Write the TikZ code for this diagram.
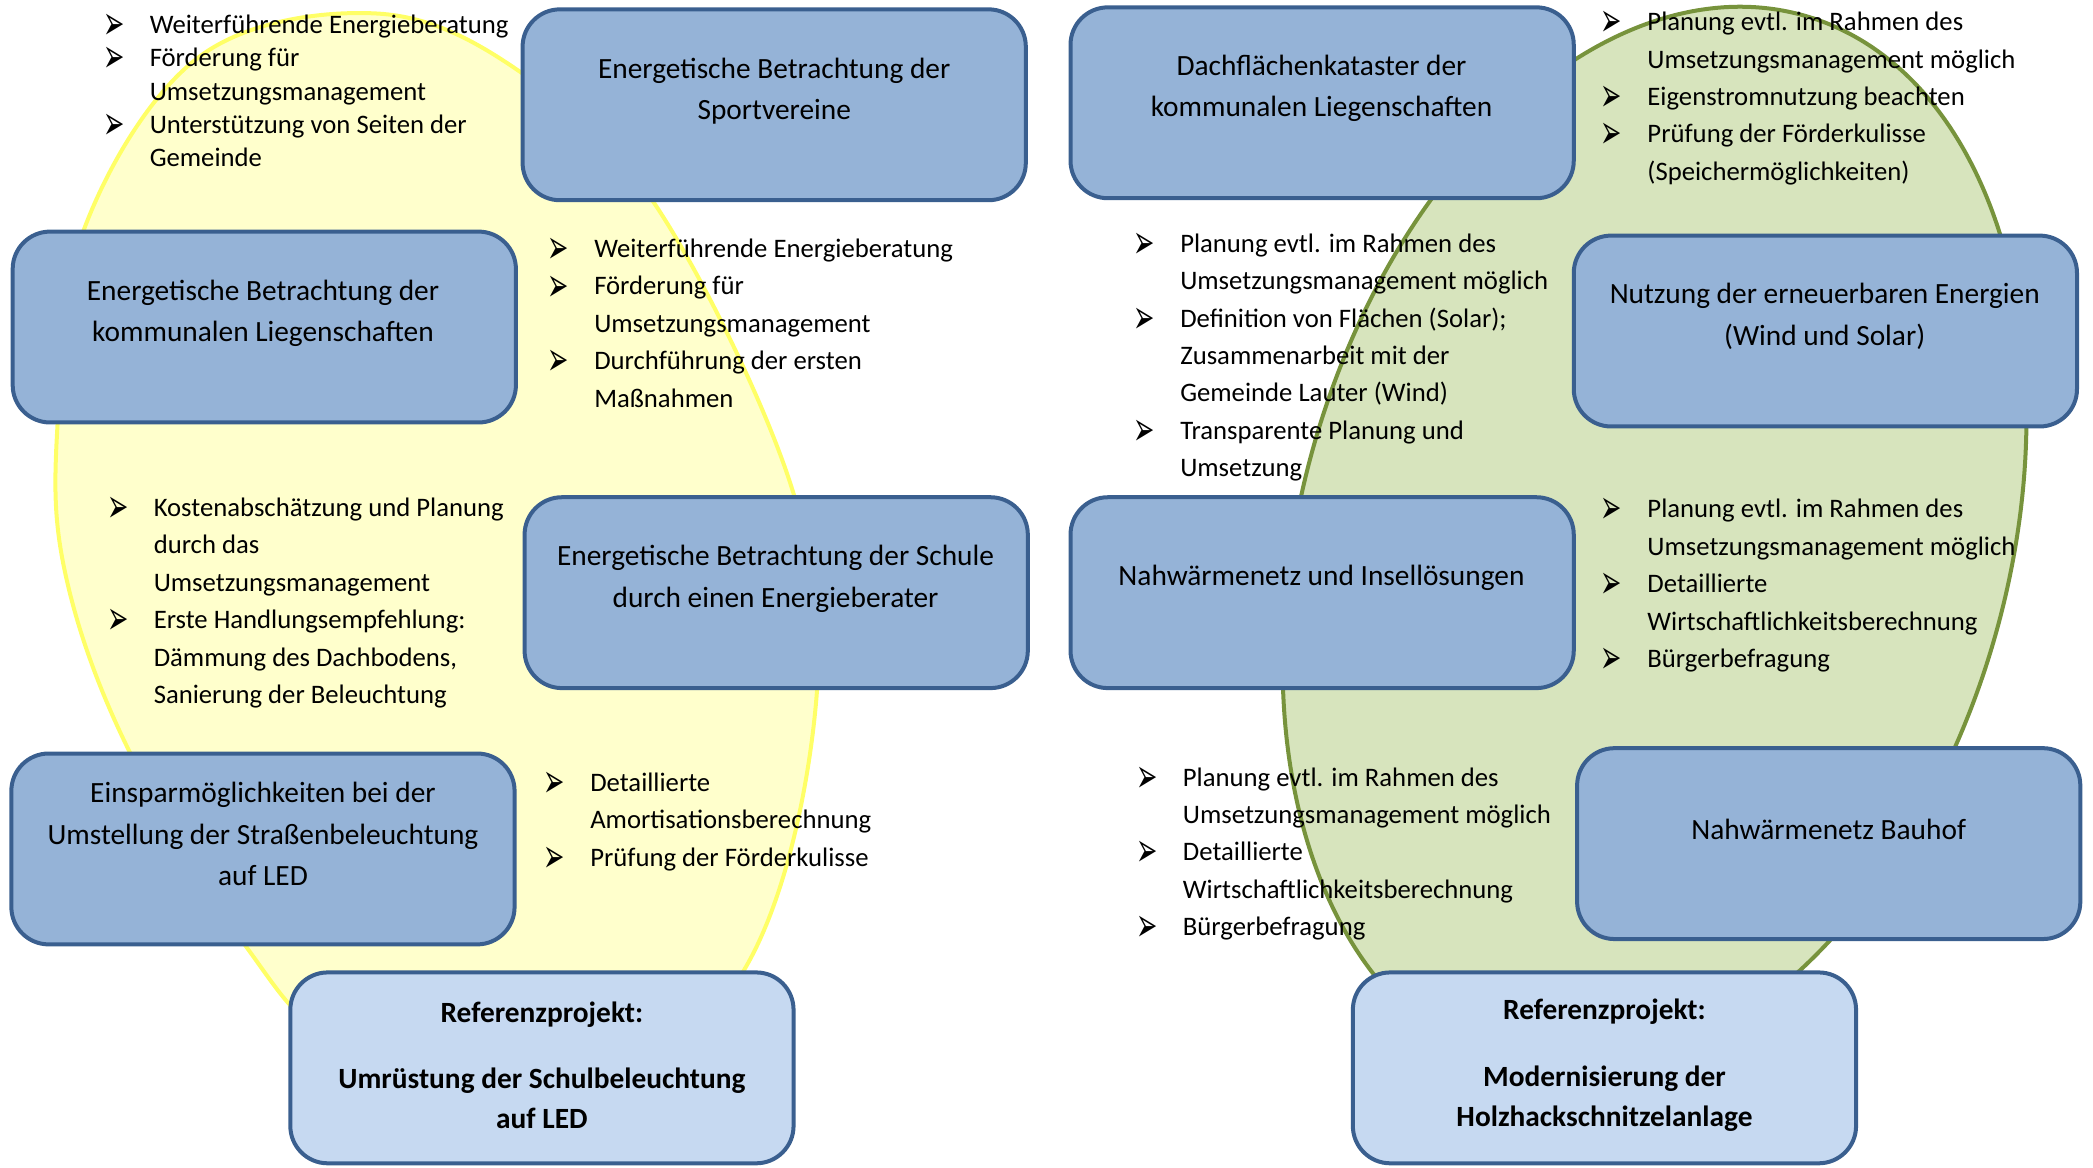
\documentclass[tikz,border=0pt]{standalone}
\usepackage{fontspec}
\usepackage{graphicx}
\setmainfont{Carlito}
\newfontfamily\symfont{DejaVu Sans}
\definecolor{boxborder}{HTML}{3A5F8F}
\definecolor{boxfill}{HTML}{95B3D7}
\definecolor{reffill}{HTML}{C6D9F1}
\definecolor{yelfill}{HTML}{FFFFCC}
\definecolor{yelline}{HTML}{FFFF66}
\definecolor{grnfill}{HTML}{D7E4BD}
\definecolor{grnline}{HTML}{77933C}
\newcommand{\bu}{\makebox[35pt][l]{\raisebox{-4.5pt}{\resizebox{16pt}{19pt}{\symfont ➢}}}}
\newcommand{\ind}{\hspace*{35pt}}
\begin{document}
\begin{tikzpicture}[x=1pt,y=-1pt,
  box/.style={draw=boxborder, line width=3pt, fill=boxfill, rounded corners=28pt,
    minimum width=377pt, minimum height=143pt, inner sep=0pt},
  refbox/.style={box, fill=reffill},
  btxt/.style={font=\fontsize{22}{31}\selectfont, align=center, inner sep=0pt},
  lst/.style={font=\fontsize{20}{28}\selectfont, inner sep=0pt, anchor=base west},
  yel/.style={draw=yelline, fill=yelfill, line width=3pt},
  grn/.style={draw=grnline, fill=grnfill, line width=3pt}]
\useasboundingbox (0,0) rectangle (1568,875);
% ellipses
\draw[yel] plot[smooth cycle, tension=0.6] coordinates {(280,10) (387,52) (492,155) (593,365) (611,530) (559,724) (430,845) (260,785) (185,710) (95,559) (49,430) (43,320) (64,169) (150,42)};
\draw[grn, rotate around={-16:(1239.5,405)}] (1239.5,405) ellipse [x radius=265, y radius=409];
% lists
\node[lst, font=\fontsize{20}{25}\selectfont] (l1) at (77,25) {\parbox[t]{330pt}{%
\bu Weiterführende Energieberatung\\
\bu Förderung für\\
\ind Umsetzungsmanagement\\
\bu Unterstützung von Seiten der\\
\ind Gemeinde}};
\node[lst] (l2) at (410,193) {\parbox[t]{340pt}{%
\bu Weiterführende Energieberatung\\
\bu Förderung für\\
\ind Umsetzungsmanagement\\
\bu Durchführung der ersten\\
\ind Maßnahmen}};
\node[lst] (l3) at (80,387) {\parbox[t]{330pt}{%
\bu Kostenabschätzung und Planung\\
\ind durch das\\
\ind Umsetzungsmanagement\\
\bu Erste Handlungsempfehlung:\\
\ind Dämmung des Dachbodens,\\
\ind Sanierung der Beleuchtung}};
\node[lst] (l4) at (407,593) {\parbox[t]{340pt}{%
\bu Detaillierte\\
\ind Amortisationsberechnung\\
\bu Prüfung der Förderkulisse}};
\node[lst] (r1) at (1199,23) {\parbox[t]{360pt}{%
\bu Planung evtl. im Rahmen des\\
\ind Umsetzungsmanagement möglich\\
\bu Eigenstromnutzung beachten\\
\bu Prüfung der Förderkulisse\\
\ind (Speichermöglichkeiten)}};
\node[lst] (r2) at (849,189) {\parbox[t]{360pt}{%
\bu Planung evtl. im Rahmen des\\
\ind Umsetzungsmanagement möglich\\
\bu Definition von Flächen (Solar);\\
\ind Zusammenarbeit mit der\\
\ind Gemeinde Lauter (Wind)\\
\bu Transparente Planung und\\
\ind Umsetzung}};
\node[lst] (r3) at (1199,388) {\parbox[t]{360pt}{%
\bu Planung evtl. im Rahmen des\\
\ind Umsetzungsmanagement möglich\\
\bu Detaillierte\\
\ind Wirtschaftlichkeitsberechnung\\
\bu Bürgerbefragung}};
\node[lst] (r4) at (851,589) {\parbox[t]{360pt}{%
\bu Planung evtl. im Rahmen des\\
\ind Umsetzungsmanagement möglich\\
\bu Detaillierte\\
\ind Wirtschaftlichkeitsberechnung\\
\bu Bürgerbefragung}};
% boxes
\node[box] (b1) at (580,78.5) {};
\node[btxt] (t1) at (580,68.5) {Energetische Betrachtung der\\Sportvereine};
\node[box] (b2) at (198,245) {};
\node[btxt] (t2) at (197,234.5) {Energetische Betrachtung der\\kommunalen Liegenschaften};
\node[box] (b3) at (581.5,444) {};
\node[btxt] (t3) at (581,433.5) {Energetische Betrachtung der Schule\\durch einen Energieberater};
\node[box] (b4) at (197,636) {};
\node[btxt] (t4) at (197,625) {Einsparmöglichkeiten bei der\\Umstellung der Straßenbeleuchtung\\auf LED};
\node[refbox] (b5) at (406,800) {};
\node[btxt, font=\fontsize{22}{30}\selectfont\bfseries] (t5) at (406,798) {Referenzprojekt:\\[20pt]Umrüstung der Schulbeleuchtung\\auf LED};
\node[box] (b6) at (990.5,77) {};
\node[btxt] (t6) at (990,66) {Dachflächenkataster der\\kommunalen Liegenschaften};
\node[box] (b7) at (1367.5,248) {};
\node[btxt] (t7) at (1367,237) {Nutzung der erneuerbaren Energien\\(Wind und Solar)};
\node[box] (b8) at (990.5,444) {};
\node[btxt] (t8) at (990,433) {Nahwärmenetz und Insellösungen};
\node[box] (b9) at (1370,632) {};
\node[btxt] (t9) at (1370,621) {Nahwärmenetz Bauhof};
\node[refbox] (b10) at (1202,800) {};
\node[btxt, font=\fontsize{22}{30}\selectfont\bfseries] (t10) at (1202,798) {Referenzprojekt:\\[20pt]Modernisierung der\\Holzhackschnitzelanlage};
\end{tikzpicture}
\end{document}
